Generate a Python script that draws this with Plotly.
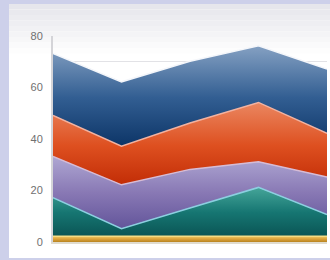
import plotly.graph_objects as go

categories = ["A", "B", "C", "D", "E"]
gold = [2.2, 2.2, 2.2, 2.2, 2.2]
teal = [15, 3, 11, 19, 8.5]
purple = [16, 17, 15, 10, 14.5]
red = [16, 15, 18, 23, 17]
blue = [24, 25, 24, 22, 25]
y_ticks = [0, 20, 40, 60, 80]

W, H = 330, 260
def px(x): return x / W
def py(y): return 1 - y / H

series = [
    ("Gold", gold, "#f6dc84", [[0, "#b88420"], [0.5, "#dca23a"], [1, "#f2cc66"]], 0, 2.3),
    ("Teal", teal, "#8ccfe0", [[0, "#0a5454"], [0.5, "#167672"], [1, "#44a498"]], 2, 21),
    ("Purple", purple, "#d6bcd6", [[0, "#62549a"], [0.5, "#8878b4"], [1, "#aea6d2"]], 5, 33),
    ("Red", red, "#f2b2a0", [[0, "#c02a04"], [0.5, "#de5020"], [1, "#ea8660"]], 21, 54),
    ("Blue", blue, "#f4f6fa", [[0, "#0a3264"], [0.5, "#325e92"], [1, "#84a0c2"]], 36, 76),
]

fig = go.Figure()
for name, vals, lc, cs, s0, s1 in series:
    fig.add_trace(go.Scatter(
        x=categories, y=vals, name=name, mode="lines", stackgroup="one",
        line=dict(color=lc, width=1.5),
        fillgradient=dict(type="vertical", colorscale=cs, start=s0, stop=s1),
        hoverinfo="skip",
    ))

shapes = [
    dict(type="rect", xref="paper", yref="paper", x0=0, x1=1, y0=0, y1=1,
         fillcolor="#cdd0ea", line=dict(width=0), layer="below"),
    dict(type="rect", xref="paper", yref="paper", x0=px(9), x1=1, y0=py(258), y1=py(4),
         fillcolor="#ffffff", line=dict(width=0), layer="below"),
]
grad = ["#e6e6ec", "#e9e9ee", "#ececf0", "#eeeef2", "#f1f1f4", "#f4f4f6", "#f7f7f8", "#fafafb", "#fdfdfd"]
for i, c in enumerate(grad):
    shapes.append(dict(type="rect", xref="paper", yref="paper", x0=px(9), x1=1,
                       y0=py(4 + (i + 1) * 5.5), y1=py(4 + i * 5.5),
                       fillcolor=c, line=dict(width=0), layer="below"))

fig.update_layout(
    width=W, height=H,
    margin=dict(l=0, r=0, t=0, b=0),
    paper_bgcolor="#cdd0ea",
    plot_bgcolor="rgba(0,0,0,0)",
    showlegend=False,
    shapes=shapes,
    xaxis=dict(domain=[px(53), px(327)], range=[0, 4], showticklabels=False,
               showgrid=False, zeroline=False, showline=True, linecolor="#e0dccf",
               linewidth=2, automargin=False),
    yaxis=dict(domain=[py(242), py(36)], range=[0, 80], tickvals=y_ticks,
               showgrid=True, gridcolor="#d9d9dc", gridwidth=1,
               minor=dict(dtick=10, showgrid=True, gridcolor="#e2e2e6"),
               zeroline=False, showline=True, linecolor="#d4d4d8", linewidth=2,
               tickfont=dict(family="Liberation Sans", size=11, color="#707070"),
               ticks="", ticklabelstandoff=6, automargin=False, layer="below traces"),
)

fig.write_html("out.html", config={"displayModeBar": False},
               post_script="document.body.style.margin='0';document.body.style.background='#cdd0ea';")
